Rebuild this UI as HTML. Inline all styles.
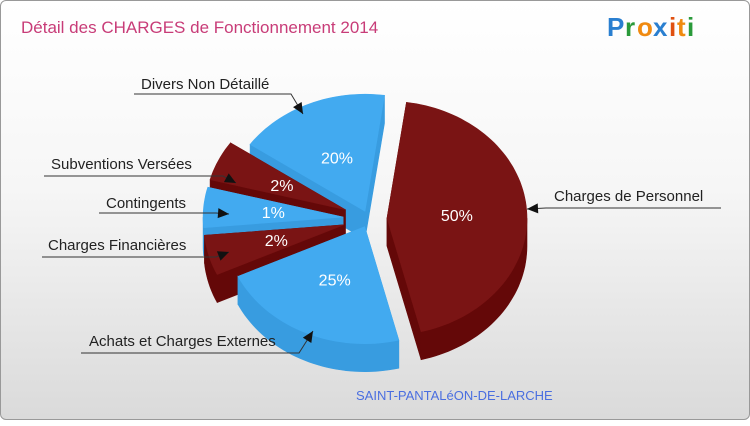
<!DOCTYPE html>
<html><head><meta charset="utf-8">
<style>
html,body{margin:0;padding:0;}
body{width:750px;height:420px;overflow:hidden;font-family:"Liberation Sans",sans-serif;}
#wrap{position:absolute;left:0;top:0;width:748px;height:418px;border:1px solid #999;border-radius:6px;background:linear-gradient(#fff 0%,#f6f6f6 45%,#dadada 100%);}
</style></head>
<body>
<div id="wrap">
<svg id="chart" width="750" height="420" viewBox="0 0 750 420">
  <text x="20" y="32" font-size="17" fill="#c83c78">Détail des CHARGES de Fonctionnement 2014</text>
  <g font-size="26" font-weight="bold" font-family="Liberation Sans, sans-serif">
    <text x="606" y="35" fill="#2a7fd0">P</text><text x="624" y="35" fill="#2a9a3a">r</text><text x="636" y="35" fill="#f08a10">o</text><text x="652" y="35" fill="#2a7fd0">x</text><text x="668" y="35" fill="#e05010">i</text><text x="676" y="35" fill="#f08a10">t</text><text x="686" y="35" fill="#2a9a3a">i</text>
  </g>
  <g id="slices"></g>
  <g id="pcts"></g>
  <g id="callouts" font-size="15" fill="#222"></g>
  <text x="355" y="399" font-size="13" fill="#4a6ee0">SAINT-PANTALéON-DE-LARCHE</text>
</svg>
</div>
<script>
const categories = ["Charges de Personnel","Achats et Charges Externes","Charges Financières","Contingents","Subventions Versées","Divers Non Détaillé"];
const values = [50,25,2,1,2,20];
const pctLabels = ["50%","25%","2%","1%","2%","20%"];
const NS="http://www.w3.org/2000/svg";
const cx=368, cy=218, rx=140, ry=117, depth=28, startDeg=-82, minDeg=20;
const explode=[18,10,26,26,26,10];
const topCol=["#7a1414","#42aaf0"], sideCol=["#640808","#389ce0"];
const total=values.reduce((a,b)=>a+b,0);
let small=values.map(v=>v/total*360<minDeg);
let smallSum=small.reduce((a,s)=>a+(s?minDeg:0),0);
let bigTot=values.reduce((a,v,i)=>a+(small[i]?0:v),0);
let spans=values.map((v,i)=>small[i]?minDeg:v/bigTot*(360-smallSum));
const rad=d=>d*Math.PI/180;
function pt(ox,oy,t,dy){return [ox+rx*Math.cos(rad(t)), oy+ry*Math.sin(rad(t))+(dy||0)];}
function arcPts(ox,oy,a0,a1,dy){let p=[];const n=Math.max(4,Math.ceil(Math.abs(a1-a0)/2));for(let k=0;k<=n;k++){p.push(pt(ox,oy,a0+(a1-a0)*k/n,dy));}return p;}
const g=document.getElementById('slices'), pg=document.getElementById('pcts');
let slices=[];let a=startDeg;
values.forEach((v,i)=>{const a0=a,a1=a+spans[i];a=a1;const m=(a0+a1)/2;
  const ox=cx+explode[i]*Math.cos(rad(m)), oy=cy+explode[i]*Math.sin(rad(m))*0.85;
  slices.push({i,a0,a1,m,ox,oy});});
function poly(points,fill,name){const p=document.createElementNS(NS,'path');
  p.setAttribute('d','M'+points.map(q=>q[0].toFixed(1)+','+q[1].toFixed(1)).join('L')+'Z');
  p.setAttribute('fill',fill);p.setAttribute('stroke',fill);p.setAttribute('stroke-width','0.6');
  
  
  return p;}
let order=slices.slice().sort((s,t)=>Math.sin(rad(s.m))-Math.sin(rad(t.m)));
order.forEach(s=>{const c=s.i%2===0?0:1;const grp=document.createElementNS(NS,'g');
  
  
  const O=[s.ox,s.oy],Od=[s.ox,s.oy+depth];
  [s.a0,s.a1].forEach(t=>{const P=pt(s.ox,s.oy,t),Pd=pt(s.ox,s.oy,t,depth);grp.appendChild(poly([O,P,Pd,Od],sideCol[c],'slice-side-wall'));});
  let ranges=[];
  for(let off=-360;off<=360;off+=360){const lo=Math.max(s.a0,off),hi=Math.min(s.a1,off+180);if(hi>lo)ranges.push([lo,hi]);}
  ranges.forEach(r=>{const top=arcPts(s.ox,s.oy,r[0],r[1]);const bot=arcPts(s.ox,s.oy,r[1],r[0],depth);grp.appendChild(poly(top.concat(bot),sideCol[c],'slice-outer-wall'));});
  grp.appendChild(poly([O].concat(arcPts(s.ox,s.oy,s.a0,s.a1)),topCol[c],'slice-top'));
  g.appendChild(grp);});
slices.forEach(s=>{const k=0.5;
  const x=s.ox+rx*k*Math.cos(rad(s.m)), y=s.oy+ry*k*Math.sin(rad(s.m));
  const t=document.createElementNS(NS,'text');t.setAttribute('x',x.toFixed(1));t.setAttribute('y',(y+6).toFixed(1));
  t.setAttribute('text-anchor','middle');t.setAttribute('fill','#fff');t.setAttribute('font-size','16');t.textContent=pctLabels[s.i];
  
  
  pg.appendChild(t);});
const co=document.getElementById('callouts');
const calls=[
 {i:0,tx:553,ty:200,line:[[720,207],[545,207],[526,208]]},
 {i:1,tx:88,ty:345,line:[[80,352],[298,352],[312,330]]},
 {i:2,tx:47,ty:249,line:[[41,256],[215,256],[228,251]]},
 {i:3,tx:105,ty:207,line:[[98,212],[215,212],[228,213]]},
 {i:4,tx:50,ty:168,line:[[43,175],[222,175],[235,182]]},
 {i:5,tx:140,ty:88,line:[[133,93],[290,93],[302,113]]}];
calls.forEach(c=>{const t=document.createElementNS(NS,'text');t.setAttribute('x',c.tx);t.setAttribute('y',c.ty);t.textContent=categories[c.i];
  
  
  co.appendChild(t);
  const pl=document.createElementNS(NS,'polyline');pl.setAttribute('points',c.line.map(p=>p.join(',')).join(' '));
  pl.setAttribute('fill','none');pl.setAttribute('stroke','#333');pl.setAttribute('stroke-width','1');
  
  
  co.appendChild(pl);
  const n=c.line.length,e=c.line[n-1],b=c.line[n-2];const ang=Math.atan2(e[1]-b[1],e[0]-b[0]);
  const L=11,W=5;const bx=e[0]-L*Math.cos(ang),by=e[1]-L*Math.sin(ang);
  const ar=document.createElementNS(NS,'path');
  ar.setAttribute('d',`M${e[0]},${e[1]}L${bx-W*Math.sin(ang)},${by+W*Math.cos(ang)}L${bx+W*Math.sin(ang)},${by-W*Math.cos(ang)}Z`);
  ar.setAttribute('fill','#111');
  
  
  co.appendChild(ar);});
</script>
</body></html>
